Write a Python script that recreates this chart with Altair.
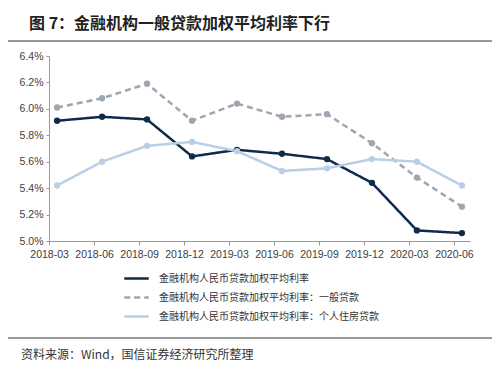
import altair as alt
import pandas as pd

dates = ["2018-03", "2018-06", "2018-09", "2018-12", "2019-03",
         "2019-06", "2019-09", "2019-12", "2020-03", "2020-06"]
s_names = ["金融机构人民币贷款加权平均利率",
           "金融机构人民币贷款加权平均利率：一般贷款",
           "金融机构人民币贷款加权平均利率：个人住房贷款"]
s1 = [5.91, 5.94, 5.92, 5.64, 5.69, 5.66, 5.62, 5.44, 5.08, 5.06]
s2 = [6.01, 6.08, 6.19, 5.91, 6.04, 5.94, 5.96, 5.74, 5.48, 5.26]
s3 = [5.42, 5.60, 5.72, 5.75, 5.68, 5.53, 5.55, 5.62, 5.60, 5.42]
y_ticks = [5.0, 5.2, 5.4, 5.6, 5.8, 6.0, 6.2, 6.4]
colors = ["#0f2a4a", "#9ea6b0", "#b9cfe6"]
dashes = [[1, 0], [6, 4], [1, 0]]
title_text = "图 7：金融机构一般贷款加权平均利率下行"
source_text = "资料来源：Wind，国信证券经济研究所整理"

rows = []
for name, vals in zip(s_names, [s1, s2, s3]):
    for d, v in zip(dates, vals):
        rows.append({"date": d, "series": name, "value": v})
df = pd.DataFrame(rows)

W, H = 421, 185

xaxis = alt.Axis(labelAngle=0, labelFont="Liberation Sans", labelFontSize=10.5,
                 labelColor="#404040", domainColor="#9a9a9a", tickColor="#9a9a9a",
                 tickSize=4, tickOffset=-8, labelPadding=4, grid=False,
                 labelOverlap=False)
yaxis = alt.Axis(values=y_ticks, labelExpr="format(datum.value, '.1f') + '%'",
                 labelFont="Liberation Sans", labelFontSize=10.5, labelColor="#404040",
                 domainColor="#9a9a9a", tickColor="#9a9a9a", tickSize=3, grid=False,
                 labelPadding=3, labelOverlap=False, labelBound=False)
xenc = alt.X("date:N", sort=dates, title=None,
             scale=alt.Scale(type="point", padding=0.18), axis=xaxis)
yenc = alt.Y("value:Q", title=None,
             scale=alt.Scale(domain=[5.0, 6.4], nice=False, zero=False), axis=yaxis)
color = alt.Color("series:N", sort=s_names,
                  scale=alt.Scale(domain=s_names, range=colors),
                  legend=alt.Legend(title=None, orient="none", legendX=74, legendY=209,
                                    symbolType="stroke", symbolSize=600, symbolStrokeWidth=2.5,
                                    labelFont="Noto Sans CJK SC", labelFontSize=10,
                                    labelColor="#333333", rowPadding=0, labelOffset=9,
                                    labelLimit=0))
dash = alt.StrokeDash("series:N", sort=s_names,
                      scale=alt.Scale(domain=s_names, range=dashes), legend=None)

lines = alt.Chart(df).mark_line(strokeWidth=2.5).encode(
    x=xenc, y=yenc, color=color, strokeDash=dash, order=alt.Order("series:N"))
points = alt.Chart(df).mark_circle(size=40, opacity=1).encode(
    x=xenc, y=yenc,
    color=alt.Color("series:N", sort=s_names, scale=alt.Scale(domain=s_names, range=colors), legend=None))

deco = pd.DataFrame({"k": [0]})
rule_top = alt.Chart(deco).mark_rule(color="#333333", strokeWidth=1.5).encode(
    x=alt.value(-41), x2=alt.value(443), y=alt.value(-50))
rule_mid = alt.Chart(deco).mark_rule(color="#333333", strokeWidth=1.2).encode(
    x=alt.value(-41), x2=alt.value(443), y=alt.value(-15))
rule_bot = alt.Chart(deco).mark_rule(color="#333333", strokeWidth=1.2).encode(
    x=alt.value(-41), x2=alt.value(443), y=alt.value(282))
title = alt.Chart(pd.DataFrame({"t": [title_text]})).mark_text(
    align="left", baseline="middle", font="Noto Sans CJK SC", fontSize=16, fontWeight="bold",
    color="#222222").encode(text="t:N", x=alt.value(-20), y=alt.value(-32))
source = alt.Chart(pd.DataFrame({"t": [source_text]})).mark_text(
    align="left", baseline="middle", font="Noto Sans CJK SC", fontSize=12,
    color="#333333").encode(text="t:N", x=alt.value(-28), y=alt.value(299))

chart = alt.layer(lines, points, rule_top, rule_mid, rule_bot, title, source).properties(
    width=W, height=H, autosize=alt.AutoSizeParams(type="none"),
    padding={"left": 41, "top": 48, "right": 22, "bottom": 124}
).configure_view(stroke=None).resolve_scale(color="shared")

chart.save("out.html", embed_options={"renderer": "svg", "actions": False})
